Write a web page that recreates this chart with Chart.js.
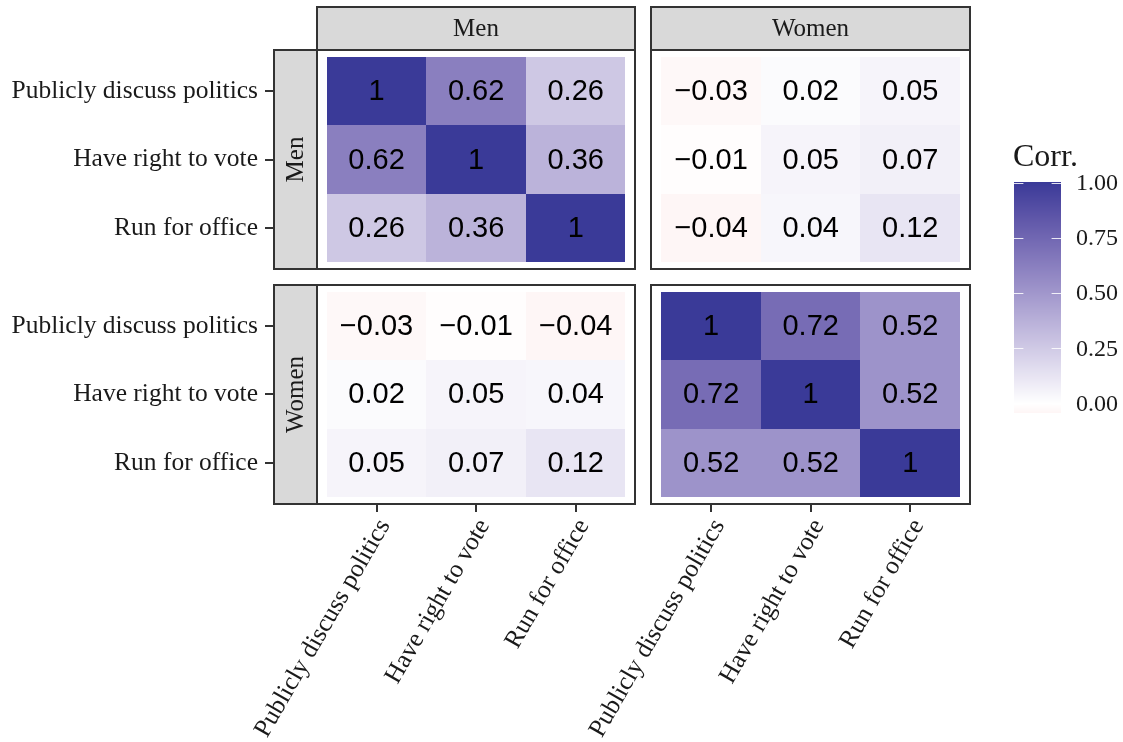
<!DOCTYPE html>
<html>
<head>
<meta charset="utf-8">
<script src="https://cdn.jsdelivr.net/npm/chart.js@4.4.0/dist/chart.umd.min.js"></script>
<style>
  html, body { margin: 0; padding: 0; background: #fff; }
  #wrap { width: 1123px; height: 742px; }
</style>
</head>
<body>
<div id="wrap"><canvas id="corrChart" width="1123" height="742"></canvas></div>
<script>
// items asked about, and the respondent groups used as facets
const items = ["Publicly discuss politics", "Have right to vote", "Run for office"];
const groups = ["Men", "Women"];

// correlations, rows = row facet items, columns = column facet items
const menMen = [
  [1, 0.62, 0.26],
  [0.62, 1, 0.36],
  [0.26, 0.36, 1]
];
const menWomen = [
  [-0.03, 0.02, 0.05],
  [-0.01, 0.05, 0.07],
  [-0.04, 0.04, 0.12]
];
const womenMen = [
  [-0.03, -0.01, -0.04],
  [0.02, 0.05, 0.04],
  [0.05, 0.07, 0.12]
];
const womenWomen = [
  [1, 0.72, 0.52],
  [0.72, 1, 0.52],
  [0.52, 0.52, 1]
];

const legendTitle = "Corr.";
const legendTicks = [0, 0.25, 0.5, 0.75, 1];

// facet layout in data units (3 tiles + 0.6 ggplot padding per panel)
const PANEL = 3.2;
const GAP_X = 0.16, GAP_Y = 0.226;
const STRIP_X = 0.44, STRIP_Y = 0.642;
const facetX = [0, PANEL + GAP_X];
const facetY = [0, PANEL + GAP_Y];
const xMin = 0.4 - STRIP_X, xMax = facetX[1] + 3.6;
const yMin = 0.4 - STRIP_Y, yMax = facetY[1] + 3.6;

const blocks = [[menMen, menWomen], [womenMen, womenWomen]];
const cells = [];
groups.forEach((rg, r) => {
  groups.forEach((cg, c) => {
    blocks[r][c].forEach((row, i) => {
      row.forEach((v, j) => {
        cells.push({ x: facetX[c] + j + 1, y: facetY[r] + i + 1, v: v });
      });
    });
  });
});
const xTicks = [], yTicks = [];
facetX.forEach(off => [1, 2, 3].forEach(k => xTicks.push(off + k)));
facetY.forEach(off => [1, 2, 3].forEach(k => yTicks.push(off + k)));

// ---- colour scale: gradient2 in CIELAB, mid = white at 0
function hexToRgb(h) {
  return [1, 3, 5].map(i => parseInt(h.substr(i, 2), 16));
}
function rgbToLab(rgb) {
  const lin = rgb.map(c => {
    c /= 255;
    return c <= 0.04045 ? c / 12.92 : Math.pow((c + 0.055) / 1.055, 2.4);
  });
  const X = (0.4124 * lin[0] + 0.3576 * lin[1] + 0.1805 * lin[2]) / 0.95047;
  const Y = 0.2126 * lin[0] + 0.7152 * lin[1] + 0.0722 * lin[2];
  const Z = (0.0193 * lin[0] + 0.1192 * lin[1] + 0.9505 * lin[2]) / 1.08883;
  const f = t => t > 0.008856 ? Math.cbrt(t) : 7.787 * t + 16 / 116;
  return [116 * f(Y) - 16, 500 * (f(X) - f(Y)), 200 * (f(Y) - f(Z))];
}
function labToCss(lab) {
  const fy = (lab[0] + 16) / 116, fx = fy + lab[1] / 500, fz = fy - lab[2] / 200;
  const inv = t => t > 0.206893 ? t * t * t : (t - 16 / 116) / 7.787;
  const X = inv(fx) * 0.95047, Y = inv(fy), Z = inv(fz) * 1.08883;
  const lin = [
    3.2406 * X - 1.5372 * Y - 0.4986 * Z,
    -0.9689 * X + 1.8758 * Y + 0.0415 * Z,
    0.0557 * X - 0.2040 * Y + 1.0570 * Z
  ];
  const out = lin.map(c => {
    c = c <= 0.0031308 ? 12.92 * c : 1.055 * Math.pow(c, 1 / 2.4) - 0.055;
    return Math.round(Math.min(1, Math.max(0, c)) * 255);
  });
  return `rgb(${out[0]},${out[1]},${out[2]})`;
}
const lowLab = rgbToLab(hexToRgb("#B2182B"));
const midLab = rgbToLab(hexToRgb("#FFFFFF"));
const highLab = rgbToLab(hexToRgb("#3A3A98"));
const maxAbs = Math.max(...cells.map(c => Math.abs(c.v)));
function fillFor(v) {
  const t = v / maxAbs;
  const to = t >= 0 ? highLab : lowLab;
  const k = Math.abs(t);
  return labToCss(midLab.map((m, i) => m + (to[i] - m) * k));
}

function itemFor(value, offsets) {
  const off = value > offsets[1] ? offsets[1] : offsets[0];
  return items[Math.round(value - off) - 1];
}

const SERIF = "'Liberation Serif', 'Times New Roman', serif";
const SANS = "'Liberation Sans', Arial, sans-serif";

const facetPlugin = {
  id: "facetTiles",
  beforeDatasetsDraw(chart) {
    const { ctx, scales: { x, y } } = chart;
    const px = v => Math.round(x.getPixelForValue(v));
    const py = v => Math.round(y.getPixelForValue(v));
    ctx.save();

    // tiles
    cells.forEach(c => {
      const x0 = px(c.x - 0.5), x1 = px(c.x + 0.5);
      const y0 = py(c.y - 0.5), y1 = py(c.y + 0.5);
      ctx.fillStyle = fillFor(c.v);
      ctx.fillRect(x0, y0, x1 - x0, y1 - y0);
    });

    // tile labels
    ctx.fillStyle = "#000";
    ctx.font = `29px ${SANS}`;
    ctx.textAlign = "center";
    ctx.textBaseline = "middle";
    cells.forEach(c => {
      const label = String(c.v).replace("-", "\u2212");
      ctx.fillText(label, x.getPixelForValue(c.x), y.getPixelForValue(c.y) + 1);
    });

    ctx.strokeStyle = "#333333";
    ctx.lineWidth = 2;

    // panel borders
    facetY.forEach(oy => {
      facetX.forEach(ox => {
        const x0 = px(ox + 0.4), x1 = px(ox + 3.6);
        const y0 = py(oy + 0.4), y1 = py(oy + 3.6);
        ctx.strokeRect(x0, y0, x1 - x0, y1 - y0);
      });
    });

    // strips
    ctx.font = `25px ${SERIF}`;
    groups.forEach((g, c) => {
      const x0 = px(facetX[c] + 0.4), x1 = px(facetX[c] + 3.6);
      const y0 = py(yMin) + 1, y1 = py(0.4);
      ctx.fillStyle = "#D9D9D9";
      ctx.fillRect(x0, y0, x1 - x0, y1 - y0);
      ctx.strokeRect(x0, y0, x1 - x0, y1 - y0);
      ctx.fillStyle = "#1A1A1A";
      ctx.fillText(g, (x0 + x1) / 2, (y0 + y1) / 2 + 1);
    });
    groups.forEach((g, r) => {
      const x0 = px(xMin) + 1, x1 = px(0.4);
      const y0 = py(facetY[r] + 0.4), y1 = py(facetY[r] + 3.6);
      ctx.fillStyle = "#D9D9D9";
      ctx.fillRect(x0, y0, x1 - x0, y1 - y0);
      ctx.strokeRect(x0, y0, x1 - x0, y1 - y0);
      ctx.save();
      ctx.translate((x0 + x1) / 2 + 1, (y0 + y1) / 2);
      ctx.rotate(-Math.PI / 2);
      ctx.fillStyle = "#1A1A1A";
      ctx.fillText(g, 0, 0);
      ctx.restore();
    });
    ctx.restore();
  },
  afterDraw(chart) {
    // colour bar legend
    const { ctx } = chart;
    const barLeft = 1014, barWidth = 47;
    const zeroY = 403.8, unit = 221.3;
    const vy = v => zeroY - v * unit;
    const lo = Math.min(...cells.map(c => c.v)), hi = Math.max(...cells.map(c => c.v));
    ctx.save();
    const top = vy(hi), bottom = vy(lo);
    for (let yy = Math.floor(top); yy < bottom; yy++) {
      const v = (zeroY - (yy + 0.5)) / unit;
      ctx.fillStyle = fillFor(Math.max(lo, Math.min(hi, v)));
      ctx.fillRect(barLeft, yy, barWidth, 1);
    }
    ctx.strokeStyle = "rgba(255,255,255,0.85)";
    ctx.lineWidth = 1;
    ctx.fillStyle = "#1A1A1A";
    ctx.font = `24px ${SERIF}`;
    ctx.textAlign = "left";
    ctx.textBaseline = "middle";
    legendTicks.forEach(t => {
      const ty = Math.round(vy(t)) + 0.5;
      ctx.beginPath();
      ctx.moveTo(barLeft, ty); ctx.lineTo(barLeft + 9.4, ty);
      ctx.moveTo(barLeft + barWidth - 9.4, ty); ctx.lineTo(barLeft + barWidth, ty);
      ctx.stroke();
      ctx.fillText(t.toFixed(2), 1076, vy(t) + 1);
    });
    ctx.font = `32px ${SERIF}`;
    ctx.textBaseline = "alphabetic";
    ctx.fillText(legendTitle, 1013, 166);
    ctx.restore();
  }
};

const tickGrid = {
  drawOnChartArea: false,
  drawTicks: true,
  tickLength: 8,
  color: "#333333",
  lineWidth: 2
};

new Chart(document.getElementById("corrChart"), {
  type: "scatter",
  data: {
    datasets: [{
      label: "Corr.",
      data: cells,
      pointRadius: 0,
      pointHoverRadius: 0
    }]
  },
  options: {
    responsive: false,
    animation: false,
    layout: { padding: { top: 6, right: 153, bottom: 0, left: 0 } },
    plugins: {
      legend: { display: false },
      tooltip: { enabled: false }
    },
    scales: {
      x: {
        type: "linear",
        min: xMin,
        max: xMax,
        afterBuildTicks: s => { s.ticks = xTicks.map(v => ({ value: v })); },
        afterFit: s => { s.height = 238; s.paddingLeft = 0; s.paddingRight = 0; },
        grid: tickGrid,
        border: { display: false },
        ticks: {
          autoSkip: false,
          minRotation: 60,
          maxRotation: 60,
          padding: 2,
          labelOffset: 8,
          color: "#1A1A1A",
          font: { family: SERIF, size: 25.5 },
          callback: v => itemFor(v, facetX)
        }
      },
      y: {
        type: "linear",
        reverse: true,
        min: yMin,
        max: yMax,
        afterBuildTicks: s => { s.ticks = yTicks.map(v => ({ value: v })); },
        afterFit: s => { s.width = 273; s.paddingTop = 0; s.paddingBottom = 0; },
        grid: tickGrid,
        border: { display: false },
        ticks: {
          autoSkip: false,
          padding: 7,
          color: "#1A1A1A",
          font: { family: SERIF, size: 25.5 },
          callback: v => itemFor(v, facetY)
        }
      }
    }
  },
  plugins: [facetPlugin]
});
</script>
</body>
</html>
